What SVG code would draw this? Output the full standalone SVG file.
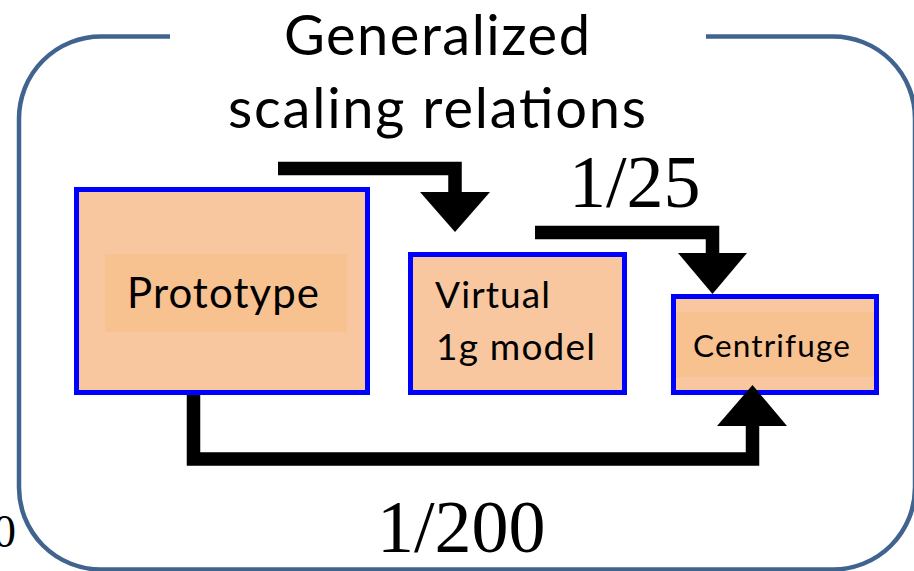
<svg xmlns="http://www.w3.org/2000/svg" width="914" height="571" viewBox="0 0 914 571">
<style>
.frame{fill:none;stroke:#41648F;stroke-width:4.5}
.box{fill:#F9C79F;stroke:#0000FF;stroke-width:5}
.inner{fill:#F8C190}
.lbl{font-family:Lato,"Liberation Sans",sans-serif;fill:#000}
.num{font-family:"Liberation Serif","Times New Roman",serif;fill:#000}
.bar{fill:none;stroke:#000;stroke-width:13.5;stroke-linejoin:miter;stroke-linecap:butt}
.head{fill:#000}
</style>
<rect width="914" height="571" fill="#FFFFFF"/>
<path class="frame" d="M706,36.5 H833 A82,82 0 0 1 915,118.5 V487.5 A82,82 0 0 1 833,569.5 H101 A82,82 0 0 1 19,487.5 V118.5 A82,82 0 0 1 101,36.5 H170"/>
<g id="title">
<text class="lbl" x="437" y="55" font-size="56" text-anchor="middle" textLength="306">Generalized</text>
<text class="lbl" x="437" y="128" font-size="56" text-anchor="middle" textLength="418">scaling relations</text>
</g>
<g id="prototype">
<rect class="box" x="76.5" y="189.5" width="291" height="203"/>
<rect class="inner" x="105" y="254" width="242" height="78"/>
<text class="lbl" x="127" y="308" font-size="42" textLength="192">Prototype</text>
</g>
<g id="virtual">
<rect class="box" x="410.5" y="254.5" width="214" height="138"/>
<text class="lbl" x="435" y="308" font-size="37" textLength="115">Virtual</text>
<text class="lbl" x="436" y="360" font-size="37" textLength="159">1g model</text>
</g>
<g id="centrifuge">
<rect class="box" x="673.5" y="296.5" width="203" height="96"/>
<rect class="inner" x="676" y="312" width="198" height="65"/>
<text class="lbl" x="693" y="357" font-size="31.5" textLength="157">Centrifuge</text>
</g>
<g id="connectors">
<path class="bar" d="M278,168.5 H455 V193"/>
<polygon class="head" points="420,192 490,192 455,232"/>
<path class="bar" d="M535,232.5 H712.5 V254"/>
<polygon class="head" points="678,253 747,253 712.5,294"/>
<path class="bar" d="M193.5,395 V459 H752.5 V425"/>
<polygon class="head" points="717,426 787,426 752.5,385"/>
</g>
<g id="labels">
<text class="num" x="569" y="207" font-size="74">1/25</text>
<text class="num" x="377" y="552" font-size="74">1/200</text>
<text class="num" x="16" y="547" font-size="46" text-anchor="end">0</text>
</g>
</svg>
